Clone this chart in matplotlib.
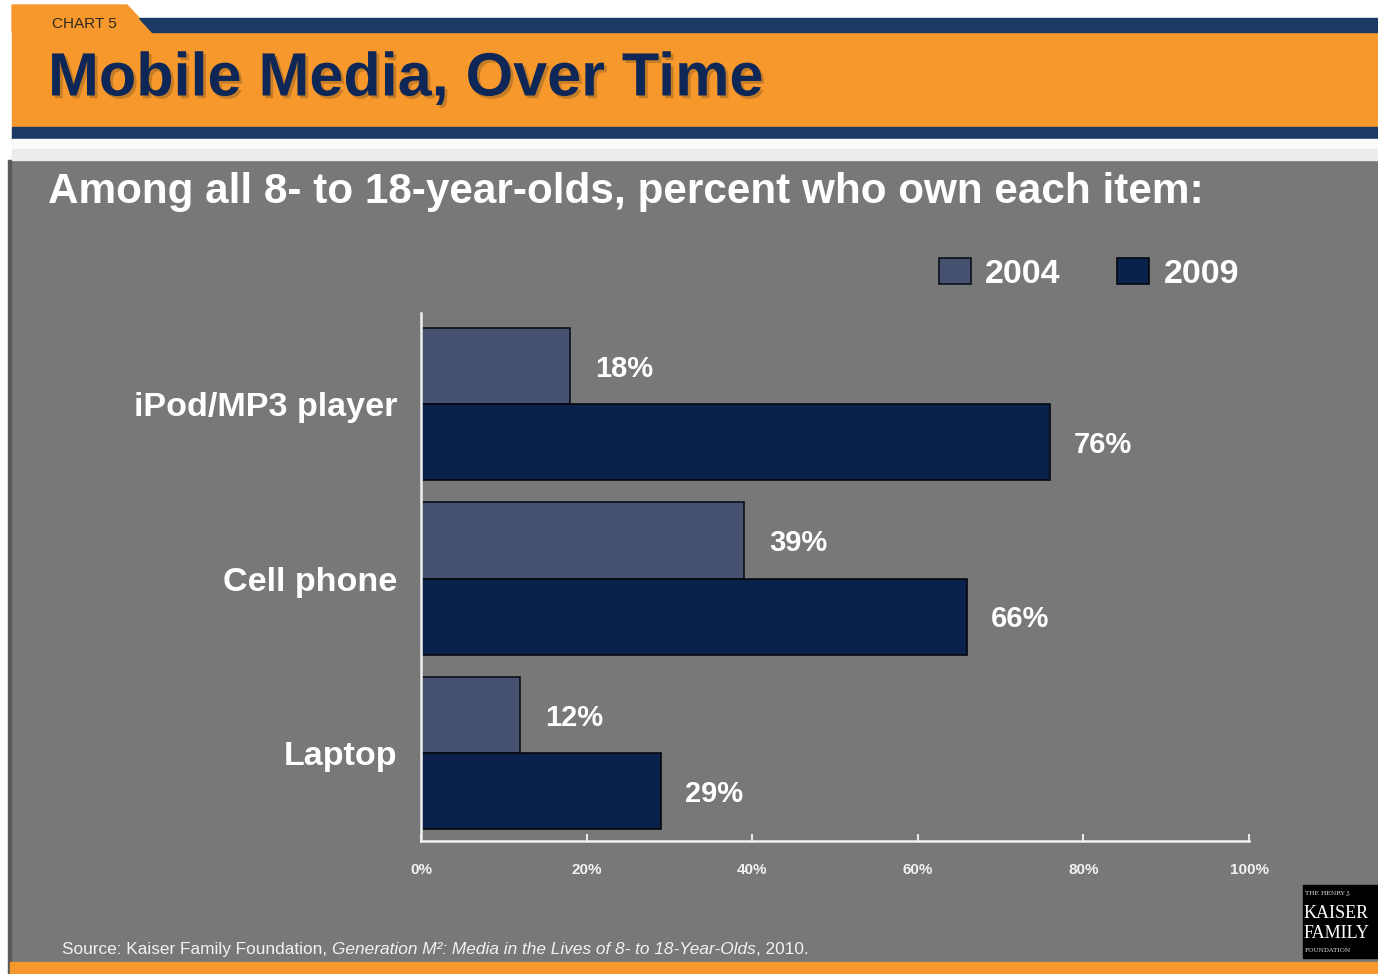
import matplotlib
matplotlib.use("Agg")
import matplotlib.pyplot as plt
import matplotlib.patheffects as pe
from matplotlib import font_manager
from matplotlib.patches import Rectangle, Polygon

# ---------------- DATA ----------------
categories = ["iPod/MP3 player", "Cell phone", "Laptop"]
years = ["2004", "2009"]
own_2004 = [18, 39, 12]
own_2009 = [76, 66, 29]
x_ticks = [0, 20, 40, 60, 80, 100]
x_tick_labels = ["0%", "20%", "40%", "60%", "80%", "100%"]

# ---------------- STYLE ----------------
W, H = 1378, 974
GRAY = "#787878"
ORANGE = "#F7982C"
NAVY_STRIPE = "#1B3A66"
TITLE_NAVY = "#0F2756"
C2004 = "#45516F"
C2009 = "#0A214B"

available = {f.name for f in font_manager.fontManager.ttflist}
SANS = "Liberation Sans" if "Liberation Sans" in available else "DejaVu Sans"
NARROW = "Liberation Sans Narrow" if "Liberation Sans Narrow" in available else SANS
plt.rcParams["font.family"] = [SANS, "DejaVu Sans"]

fig = plt.figure(figsize=(W / 100, H / 100), dpi=100)

# ---------------- BACKGROUND (pixel coords) ----------------
bg = fig.add_axes([0, 0, 1, 1], zorder=0)
bg.set_xlim(0, W)
bg.set_ylim(H, 0)
bg.axis("off")

bg.add_patch(Rectangle((0, 0), W, H, color="white"))
bg.add_patch(Rectangle((10, 160), W - 10, 802, color=GRAY))
bg.add_patch(Rectangle((8, 160), 3, 814, color="#5a5a5a"))
# header band
bg.add_patch(Rectangle((12, 31), W - 12, 97, color=ORANGE))
bg.add_patch(Polygon([(12, 5), (127, 5), (152, 32), (12, 32)], color=ORANGE))
bg.add_patch(Polygon([(139, 18), (W, 18), (W, 32), (152, 32)], color=NAVY_STRIPE))
bg.add_patch(Rectangle((12, 127), W - 12, 12, color=NAVY_STRIPE))
bg.add_patch(Rectangle((12, 139), W - 12, 10, color="#fbfbfb"))
bg.add_patch(Rectangle((12, 149), W - 12, 11, color="#ececec"))
# bottom band
bg.add_patch(Rectangle((10, 962), W - 10, 12, color=ORANGE))

bg.text(52, 24, "CHART 5", fontsize=11, family=NARROW, color="#2e2a22",
        va="center", ha="left")
bg.text(48, 80, "Mobile Media, Over Time", fontsize=44, fontweight="bold",
        color=TITLE_NAVY, va="center", ha="left",
        path_effects=[pe.withSimplePatchShadow(offset=(2, -2), shadow_rgbFace="#8a5a20", alpha=0.45)])
bg.text(48, 192, "Among all 8- to 18-year-olds, percent who own each item:",
        fontsize=30.4, fontweight="bold", color="white", va="center", ha="left")

# source line, italic part in the middle
src_kw = dict(fontsize=13.5 if NARROW != SANS else 12.4, family=NARROW, color="#f2f2f2", va="bottom")
t1 = bg.text(62, 957, "Source: Kaiser Family Foundation, ", ha="left", **src_kw)
t2 = bg.annotate("Generation M\u00b2: Media in the Lives of 8- to 18-Year-Olds", xy=(1, 0),
                 xycoords=t1, xytext=(0, 0), textcoords="offset points",
                 style="italic", ha="left", **src_kw)
bg.annotate(", 2010.", xy=(1, 0), xycoords=t2, xytext=(0, 0),
            textcoords="offset points", ha="left", **src_kw)

# Kaiser logo
bg.add_patch(Rectangle((1303, 885), W - 1303, 73, color="black"))
bg.text(1305, 893, "THE HENRY J.", fontsize=4.5, family="DejaVu Serif", color="#dddddd", va="center")
bg.text(1304, 913, "KAISER", fontsize=13, family="Liberation Serif", color="white", va="center")
bg.text(1304, 933, "FAMILY", fontsize=13, family="Liberation Serif", color="white", va="center")
bg.text(1305, 951, "FOUNDATION", fontsize=4.5, family="DejaVu Serif", color="#dddddd", va="center")

# ---------------- CHART ----------------
x0, x1 = 421, 1249
y_top, y_bot = 313, 841
ax = fig.add_axes([x0 / W, 1 - y_bot / H, (x1 - x0) / W, (y_bot - y_top) / H], zorder=1)
ax.set_facecolor("none")

pos = list(range(len(categories)))
h = 0.436
ax.barh([p - h / 2 for p in pos], own_2004, height=h, color=C2004,
        edgecolor="#0b0f1a", linewidth=1.2, label=years[0])
ax.barh([p + h / 2 for p in pos], own_2009, height=h, color=C2009,
        edgecolor="#05080f", linewidth=1.2, label=years[1])

for p, v in zip(pos, own_2004):
    ax.annotate(f"{v}%", xy=(v, p - h / 2), xytext=(18, -2), textcoords="offset points",
                fontsize=21, fontweight="bold", color="white", va="center", ha="left")
for p, v in zip(pos, own_2009):
    ax.annotate(f"{v}%", xy=(v, p + h / 2), xytext=(17, -2), textcoords="offset points",
                fontsize=21, fontweight="bold", color="white", va="center", ha="left")

ax.set_xlim(0, 100)
ax.set_ylim(2 + (y_bot - 753) / 174.5, -(404 - y_top) / 174.5)

ax.set_xticks(x_ticks)
ax.set_xticklabels(x_tick_labels)
ax.set_yticks(pos)
ax.set_yticklabels(categories)

for lab in ax.get_xticklabels():
    lab.set_fontweight("bold")
    lab.set_fontsize(11)
    lab.set_color("#f2f2f2")
for lab in ax.get_yticklabels():
    lab.set_fontweight("bold")
    lab.set_fontsize(24.6)
    lab.set_color("white")

ax.tick_params(axis="x", direction="in", length=5, width=1.5, color="#e8e8e8", pad=16)
ax.tick_params(axis="y", length=0, pad=17)

for s in ["top", "right"]:
    ax.spines[s].set_visible(False)
for s in ["left", "bottom"]:
    ax.spines[s].set_color("#f0f0f0")
    ax.spines[s].set_linewidth(1.8)

leg = ax.legend(loc="center left", bbox_to_anchor=(939 / W, 1 - 274 / H),
                bbox_transform=fig.transFigure, ncol=2, frameon=False,
                fontsize=24.5, borderpad=0, borderaxespad=0,
                handlelength=0.94, handleheight=0.82, handletextpad=0.42,
                columnspacing=1.66)
for t in leg.get_texts():
    t.set_color("white")
    t.set_fontweight("bold")

fig.savefig("out.png", dpi=100)
